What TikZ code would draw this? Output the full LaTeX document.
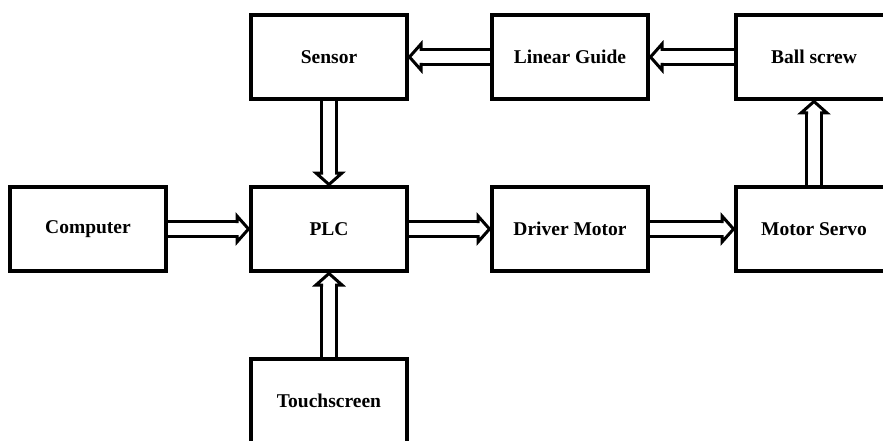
\documentclass[tikz,border=0pt]{standalone}
\usepackage{fontspec}
\setmainfont{Liberation Serif}
\usetikzlibrary{arrows.meta,positioning,decorations.markings}
\tikzset{
  blk/.style={draw=black, line width=4pt, minimum width=156pt, minimum height=84pt,
              inner sep=0pt, font=\bfseries\fontsize{19.5}{23}\selectfont},
  hhead/.style={line width=3pt, line cap=rect, line join=miter, fill=white, shorten >=0pt},
  flowarr/.style={double, double distance=12pt, line width=3pt, shorten >=12pt,
      postaction={decorate, decoration={markings, mark=at position 1 with {
        \draw[hhead] (-12pt,7.5pt) -- (-12pt,13pt) -- (-0.5pt,0pt)
                     -- (-12pt,-13pt) -- (-12pt,-7.5pt);}}}},
}
\begin{document}
\begin{tikzpicture}[x=1pt, y=-1pt]
    \useasboundingbox (0,0) rectangle (883,441);
    \clip (0,0) rectangle (883,441);
    % middle row
    \node[blk] (plc) at (329,229) {PLC};
    \node[blk, left=81pt of plc] (computer) {Computer};
    \node[blk, right=81pt of plc] (driver) {Driver Motor};
    \node[blk, right=84pt of driver] (servo) {Motor Servo};
    % top row
    \node[blk, above=84pt of plc] (sensor) {Sensor};
    \node[blk, right=81pt of sensor] (guide) {Linear Guide};
    \node[blk, right=84pt of guide] (ballscrew) {Ball screw};
    % bottom
    \node[blk, below=84pt of plc] (touch) {Touchscreen};
    % flow
    \draw[flowarr] (computer) -- (plc);
    \draw[flowarr] (plc) -- (driver);
    \draw[flowarr] (driver) -- (servo);
    \draw[flowarr] (servo) -- (ballscrew);
    \draw[flowarr] (ballscrew) -- (guide);
    \draw[flowarr] (guide) -- (sensor);
    \draw[flowarr] (sensor) -- (plc);
    \draw[flowarr] (touch) -- (plc);
  \end{tikzpicture}
\end{document}
